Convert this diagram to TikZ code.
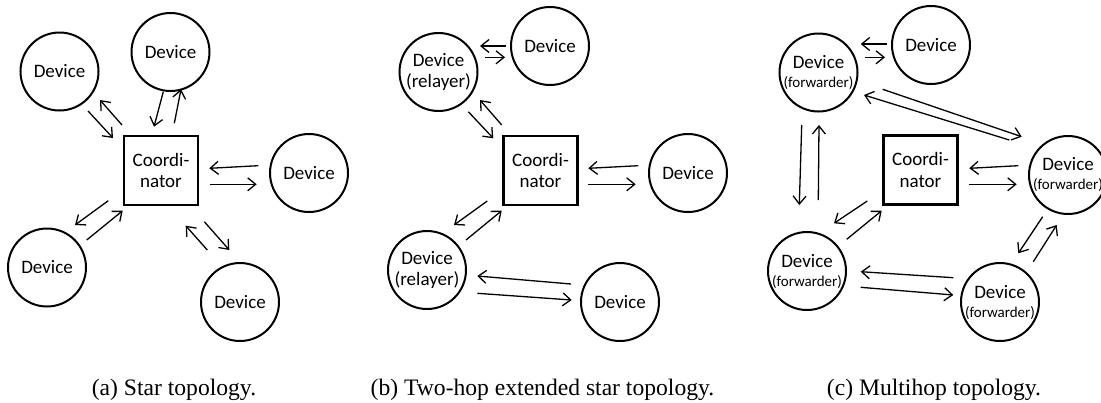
\documentclass[tikz,border=0pt]{standalone}
\usepackage{fontspec}
\setmainfont{Liberation Serif}
\newfontfamily\calib{Carlito}
\usetikzlibrary{arrows.meta,calc}
\begin{document}
\begin{tikzpicture}[x=1pt,y=-1pt,
  dev/.style={circle,draw,line width=2pt,minimum size=78pt,inner sep=0pt,align=center,
    font=\calib\fontsize{19}{21}\selectfont},
  fwd/.style={dev,font=\calib\fontsize{19}{19}\selectfont},
  hub/.style={rectangle,draw,line width=2.2pt,minimum width=74pt,minimum height=69pt,inner sep=0pt,
    align=center,font=\calib\fontsize{19}{21.5}\selectfont},
  arw/.style={line width=1.3pt,-{Straight Barb[length=8pt,width=13pt,line width=1.3pt]}},
  captext/.style={anchor=base,inner sep=0pt,font=\fontsize{23.6}{28}\selectfont}
]
\useasboundingbox (0,0) rectangle (1101,402);
\clip (0,0) rectangle (1101,402);
\newcommand\fw{{\fontsize{15}{15}\selectfont(forwarder)}}

% ---------- (a) star ----------
\node[hub] (aC) at (161,170.5) {Coordi-\\nator};
\node[dev] (a1) at (59.5,71.5) {Device};
\node[dev] (a2) at (170.5,52) {Device};
\node[dev] (a3) at (309,173) {Device};
\node[dev] (a4) at (47,267.5) {Device};
\node[dev] (a5) at (240,302) {Device};

\draw[arw] ($(a1)+(28.5,39.5)$) -- ($(aC)+(-48,-32.5)$);
\draw[arw] ($(aC)+(-39,-45.5)$) -- ($(a1)+(40.5,28.5)$);
\draw[arw] ($(a2)+(-7.2,39.7)$) -- ($(aC)+(-7,-43.8)$);
\draw[arw] ($(aC)+(13.3,-47.2)$) -- ($(a2)+(10.5,37.3)$);
\draw[arw] ($(a3)+(-50.7,-7.3)$) -- ($(aC)+(48.3,-2.2)$);
\draw[arw] ($(aC)+(49,13.8)$) -- ($(a3)+(-52.3,11.3)$);
\draw[arw] ($(aC)+(-52.7,30.2)$) -- ($(a4)+(28,-42.5)$);
\draw[arw] ($(a4)+(39.7,-27.5)$) -- ($(aC)+(-38.3,40.2)$);
\draw[arw] ($(a5)+(-32.7,-52)$) -- ($(aC)+(24.7,55.2)$);
\draw[arw] ($(aC)+(43.3,51.2)$) -- ($(a5)+(-10.7,-52)$);

% ---------- (b) two-hop ----------
\node[hub] (bC) at (540.5,170.5) {Coordi-\\nator};
\node[dev] (b1) at (438.5,72) {Device\\(relayer)};
\node[dev] (b2) at (550,46) {Device};
\node[dev] (b3) at (688,173) {Device};
\node[dev] (b4) at (427,270) {Device\\(relayer)};
\node[dev] (b5) at (620,302) {Device};

\draw[arw] ($(b2)+(-44,0)$) -- ($(b1)+(41.5,-26)$);
\draw[arw] ($(b1)+(46.5,-14.7)$) -- ($(b2)+(-45,11.3)$);
\draw[arw] ($(b1)+(29.8,39.7)$) -- ($(bC)+(-47.2,-32.2)$);
\draw[arw] ($(bC)+(-38.8,-45.5)$) -- ($(b1)+(41.5,28)$);
\draw[arw] ($(b3)+(-49.7,-7.3)$) -- ($(bC)+(47.8,-2.2)$);
\draw[arw] ($(bC)+(47.8,13.8)$) -- ($(b3)+(-52.3,11.3)$);
\draw[arw] ($(bC)+(-53.2,30.5)$) -- ($(b4)+(27,-45)$);
\draw[arw] ($(b4)+(39,-30)$) -- ($(bC)+(-38.8,40.2)$);
\draw[arw] ($(b5)+(-49,-18)$) -- ($(b4)+(50.3,6)$);
\draw[arw] ($(b4)+(50.3,23.3)$) -- ($(b5)+(-48.3,-2)$);

% ---------- (c) multihop ----------
\node[hub] (cC) at (920.5,170) {Coordi-\\nator};
\node[fwd] (c1) at (818.5,72.5) {Device\\\fw};
\node[dev] (c2) at (931,45) {Device};
\node[fwd] (c3) at (1068,175) {Device\\\fw};
\node[fwd] (c4) at (807,271) {Device\\\fw};
\node[fwd] (c5) at (1000,302) {Device\\\fw};

\draw[arw] ($(c2)+(-44.3,-1)$) -- ($(c1)+(42.2,-28.5)$);
\draw[arw] ($(c1)+(46.5,-15.2)$) -- ($(c2)+(-46,12.3)$);
\draw[arw] ($(c1)+(64.2,16.8)$) -- ($(c3)+(-46.3,-38.3)$);
\draw[arw] ($(c3)+(-58.7,-35)$) -- ($(c1)+(45.5,22.5)$);
\draw[arw] ($(c1)+(-16.8,52.5)$) -- ($(c4)+(-7.7,-66)$);
\draw[arw] ($(c4)+(11.3,-71)$) -- ($(c1)+(0.5,52.5)$);
\draw[arw] ($(c3)+(-49.7,-9.3)$) -- ($(cC)+(48.8,-1.7)$);
\draw[arw] ($(cC)+(48.8,14.3)$) -- ($(c3)+(-51.3,9.3)$);
\draw[arw] ($(cC)+(-53.2,31)$) -- ($(c4)+(27,-47.7)$);
\draw[arw] ($(c4)+(39.7,-31.7)$) -- ($(cC)+(-38.8,40.7)$);
\draw[arw] ($(c5)+(-46.7,-24.3)$) -- ($(c4)+(53.7,0.7)$);
\draw[arw] ($(c4)+(53.7,16.3)$) -- ($(c5)+(-46.7,-7)$);
\draw[arw] ($(c3)+(-25.3,41.7)$) -- ($(c5)+(18.3,-48.7)$);
\draw[arw] ($(c5)+(33.3,-40.3)$) -- ($(c3)+(-11.3,50)$);

% ---------- captions ----------
\node[captext] (capa) at (174,395) {(a) Star topology.};
\node[captext] (capb) at (542.5,395) {(b) Two-hop extended star topology.};
\node[captext] (capc) at (934,395) {(c) Multihop topology.};
\end{tikzpicture}
\end{document}
